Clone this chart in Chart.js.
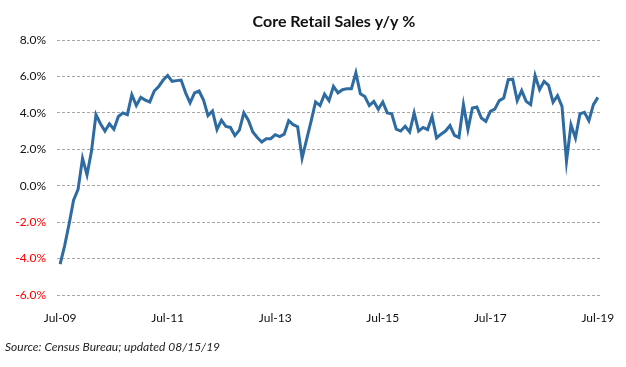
<!DOCTYPE html>
<html>
<head>
<meta charset="utf-8">
<script src="https://cdn.jsdelivr.net/npm/chart.js@4"></script>
<style>
  body { margin: 0; background: #fff; }
  #wrap { width: 626px; height: 367px; }
</style>
</head>
<body>
<div id="wrap"><canvas id="salesChart" width="626" height="367"></canvas></div>
<script>
// monthly y/y % change, Jul-09 .. Jul-19
const coreSales = [
  -4.3, -3.3, -2.1, -0.8, -0.2, 1.5, 0.6, 1.9, 3.9, 3.4, 3.0, 3.4,
  3.1, 3.8, 4.0, 3.9, 5.0, 4.4, 4.85, 4.7, 4.6, 5.2, 5.45, 5.8,
  6.05, 5.73, 5.77, 5.8, 5.1, 4.55, 5.1, 5.2, 4.7, 3.85, 4.1, 3.08,
  3.6, 3.25, 3.2, 2.75, 3.05, 4.0, 3.6, 2.95, 2.65, 2.4, 2.58, 2.58,
  2.8, 2.7, 2.83, 3.57, 3.35, 3.24, 1.52, 2.53, 3.53, 4.6, 4.4, 5.03,
  4.67, 5.45, 5.1, 5.27, 5.33, 5.33, 6.2, 5.05, 4.9, 4.4, 4.63, 4.2,
  4.6, 4.0, 3.95, 3.1, 3.0, 3.26, 2.95, 4.0, 3.0, 3.2, 3.08, 3.8,
  2.62, 2.83, 3.0, 3.3, 2.76, 2.65, 4.45, 3.08, 4.27, 4.32, 3.72, 3.53,
  4.08, 4.2, 4.67, 4.82, 5.82, 5.85, 4.67, 5.22, 4.63, 4.45, 6.05, 5.27,
  5.73, 5.51, 4.58, 4.94, 4.36, 1.33, 3.35, 2.62, 3.94, 4.03, 3.57, 4.45,
  4.85
];
const xTickPos = [0, 24, 48, 72, 96, 120];
const xTickLabels = ['Jul-09', 'Jul-11', 'Jul-13', 'Jul-15', 'Jul-17', 'Jul-19'];

const titleText = 'Core Retail Sales y/y %';
const sourceText = 'Source: Census Bureau; updated 08/15/19';

const FONT = 'Lato, "Open Sans", sans-serif';

// title and source line
const textPlugin = {
    id: 'texts',
    afterDraw(chart) {
        const c = chart.ctx;
        c.save();
        c.fillStyle = '#111';
        c.font = 'bold 16px ' + FONT;
        c.textAlign = 'center';
        c.textBaseline = 'middle';
        c.fillText(titleText, 334, 22);
        c.font = 'italic 12px ' + FONT;
        c.textAlign = 'left';
        c.fillStyle = '#222';
        c.fillText(sourceText, 5, 347);
        c.restore();
    }
};

const ctx = document.getElementById('salesChart').getContext('2d');

const salesChart = new Chart(ctx, {
    type: 'line',
    data: {
        datasets: [{
            label: 'Core Retail Sales',
            data: coreSales.map((v, i) => ({ x: i, y: v })),
            borderColor: '#2E6BA0',
            borderWidth: 3,
            pointRadius: 0,
            tension: 0,
            fill: false,
        }]
    },
    options: {
        responsive: false,
        animation: false,
        layout: {
            padding: { left: 0, right: 25, top: 40, bottom: 42 }
        },
        scales: {
            x: {
                type: 'linear',
                min: -0.7,
                max: 120.7,
                afterBuildTicks: (scale) => {
                    scale.ticks = xTickPos.map(v => ({ value: v }));
                },
                afterFit: (scale) => { scale.height = 30; },
                ticks: {
                    autoSkip: false,
                    maxRotation: 0,
                    padding: 8,
                    color: '#111',
                    font: { family: FONT, size: 12 },
                    callback: (v) => xTickLabels[xTickPos.indexOf(v)]
                },
                grid: { display: false },
                border: { display: false }
            },
            y: {
                min: -6,
                max: 8,
                afterFit: (scale) => { scale.width = 57; },
                ticks: {
                    stepSize: 2,
                    padding: 11,
                    font: { family: FONT, size: 12 },
                    color: (c) => c.tick.value < 0 ? '#FF0000' : '#111',
                    callback: (v) => v.toFixed(1) + '%'
                },
                grid: {
                    color: '#A6A6A6',
                    lineWidth: 1,
                    drawTicks: false
                },
                border: { display: false, dash: [3, 2] }
            }
        },
        plugins: {
            legend: { display: false },
            title: { display: false },
            tooltip: { enabled: false }
        }
    },
    plugins: [textPlugin]
});
</script>
</body>
</html>
